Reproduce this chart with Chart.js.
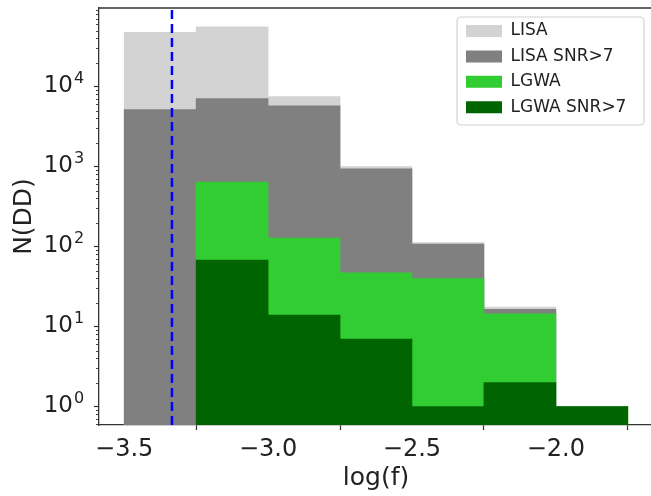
<!DOCTYPE html>
<html>
<head>
<meta charset="utf-8">
<script src="https://cdn.jsdelivr.net/npm/chart.js@4.4.1/dist/chart.umd.min.js"></script>
<style>
  html, body { margin: 0; padding: 0; background: #fff; overflow: hidden; }
  #wrap { width: 651px; height: 496px; overflow: hidden; }
  canvas { display: block; }
</style>
</head>
<body>
<div id="wrap"><canvas id="histograma" width="656" height="496"></canvas></div>
<script>
// centros de los bins de log(f), ancho 0.25
const binCenters = [-3.375, -3.125, -2.875, -2.625, -2.375, -2.125, -1.875];
const lisaAll   = [47500, 56000, 7500, 1000, 112, 17.5, null];
const lisaSnr7  = [5150, 7100, 5750, 940, 108, 16.5, null];
const lgwaAll   = [null, 640, 128, 47, 40, 14.5, 1];
const lgwaSnr7  = [null, 68, 14, 7, 1, 2, 1];

const seriesNames  = ['LISA', 'LISA SNR>7', 'LGWA', 'LGWA SNR>7'];
const seriesColors = ['#d3d3d3', '#808080', '#32cd32', '#006400'];

const xTicks = [-3.5, -3.0, -2.5, -2.0];
const yTicks = [1, 10, 100, 1000, 10000];
const yTickExp = ['0', '1', '2', '3', '4'];   // etiquetas 10^k

const cutLine = -3.334;   // linea vertical discontinua
const yMin = 0.59, yMax = 96000;
const xMin = -3.5875, xMax = -1.6625;

const FONT = 'DejaVu Sans';

function puntos(valores) {
    return binCenters.map((x, i) => ({ x: x, y: valores[i] }));
}

function marcoRedondeado(ctx, x, y, w, h, r) {
    ctx.beginPath();
    ctx.moveTo(x + r, y);
    ctx.arcTo(x + w, y, x + w, y + h, r);
    ctx.arcTo(x + w, y + h, x, y + h, r);
    ctx.arcTo(x, y + h, x, y, r);
    ctx.arcTo(x, y, x + w, y, r);
    ctx.closePath();
}

// leyenda dentro del area, arriba a la derecha
const leyendaPlugin = {
    id: 'leyendaPlugin',
    afterLayout(chart) {
        chart.legend.left = 457.6;
        chart.legend.top = 14.1;
    },
    afterDraw(chart) {
        const ctx = chart.ctx;
        ctx.save();
        ctx.strokeStyle = '#d2d2d2';
        ctx.lineWidth = 1.2;
        marcoRedondeado(ctx, 457, 17, 187, 108, 4);
        ctx.stroke();
        ctx.restore();
    }
};

// ticks menores del eje log, etiquetas 10^k y borde superior
const ejesPlugin = {
    id: 'ejesPlugin',
    afterDraw(chart) {
        const ctx = chart.ctx;
        const area = chart.chartArea;
        const y = chart.scales.y;
        ctx.save();
        ctx.strokeStyle = '#333';
        ctx.lineWidth = 0.9;
        for (let d = -1; d <= 4; d++) {
            for (let m = 2; m <= 9; m++) {
                const v = m * Math.pow(10, d);
                if (v < yMin || v > yMax) continue;
                const py = Math.round(y.getPixelForValue(v)) + 0.5;
                ctx.beginPath();
                ctx.moveTo(area.left - 3, py);
                ctx.lineTo(area.left, py);
                ctx.stroke();
            }
        }
        ctx.lineWidth = 1.3;
        ctx.beginPath();
        ctx.moveTo(area.left, area.top);
        ctx.lineTo(area.right, area.top);
        ctx.stroke();

        ctx.fillStyle = '#222';
        ctx.textBaseline = 'middle';
        yTicks.forEach((v, i) => {
            const py = y.getPixelForValue(v);
            ctx.font = '23px "' + FONT + '"';
            ctx.textAlign = 'right';
            ctx.fillText('10', 73, py - 1);
            ctx.font = '16px "' + FONT + '"';
            ctx.textAlign = 'left';
            ctx.fillText(yTickExp[i], 74, py - 8);
        });
        ctx.restore();
    }
};

const barras = [lisaAll, lisaSnr7, lgwaAll, lgwaSnr7].map((serie, i) => ({
    type: 'bar',
    label: seriesNames[i],
    data: puntos(serie),
    backgroundColor: seriesColors[i],
    borderWidth: 0,
    grouped: false,
    barPercentage: 1,
    categoryPercentage: 1,
    order: 4 - i
}));

const linea = {
    type: 'line',
    label: 'corte',
    data: [{ x: cutLine, y: yMin }, { x: cutLine, y: yMax }],
    borderColor: '#0000ff',
    borderWidth: 2.5,
    borderDash: [9, 5],
    pointRadius: 0,
    order: 0
};

const ctx = document.getElementById('histograma').getContext('2d');
new Chart(ctx, {
    type: 'bar',
    data: { datasets: barras.concat([linea]) },
    plugins: [leyendaPlugin, ejesPlugin],
    options: {
        responsive: false,
        animation: false,
        layout: { padding: { top: 8, right: 3, left: 0, bottom: 0 } },
        plugins: {
            tooltip: { enabled: false },
            legend: {
                position: 'chartArea',
                align: 'start',
                labels: {
                    filter: item => item.text !== 'corte',
                    sort: (a, b) => a.datasetIndex - b.datasetIndex,
                    boxWidth: 36,
                    boxHeight: 12,
                    padding: 8.4,
                    color: '#222',
                    font: { family: FONT, size: 17 }
                }
            }
        },
        scales: {
            x: {
                type: 'linear',
                min: xMin,
                max: xMax,
                offset: false,
                afterBuildTicks: s => { s.ticks = xTicks.map(v => ({ value: v })); },
                afterFit: s => { s.height = 71; },
                grid: { drawOnChartArea: false, tickLength: 5, tickColor: '#333', tickWidth: 1.2 },
                border: { color: '#333', width: 1.3 },
                ticks: {
                    color: '#222',
                    padding: 5,
                    maxRotation: 0,
                    font: { family: FONT, size: 24 },
                    callback: v => (v < 0 ? '\u2212' : '') + Math.abs(v).toFixed(1)
                },
                title: {
                    display: true,
                    text: 'log(f)',
                    color: '#222',
                    padding: { top: 0, bottom: 3 },
                    font: { family: FONT, size: 25 }
                }
            },
            y: {
                type: 'logarithmic',
                min: yMin,
                max: yMax,
                bounds: 'data',
                afterBuildTicks: s => { s.ticks = yTicks.map(v => ({ value: v })); },
                afterFit: s => { s.width = 99; },
                grid: { drawOnChartArea: false, tickLength: 5, tickColor: '#333', tickWidth: 1.2 },
                border: { color: '#333', width: 1.3 },
                ticks: { display: false },
                title: {
                    display: true,
                    text: 'N(DD)',
                    color: '#222',
                    padding: { top: 9, bottom: 0 },
                    font: { family: FONT, size: 25 }
                }
            }
        }
    }
});
</script>
</body>
</html>
